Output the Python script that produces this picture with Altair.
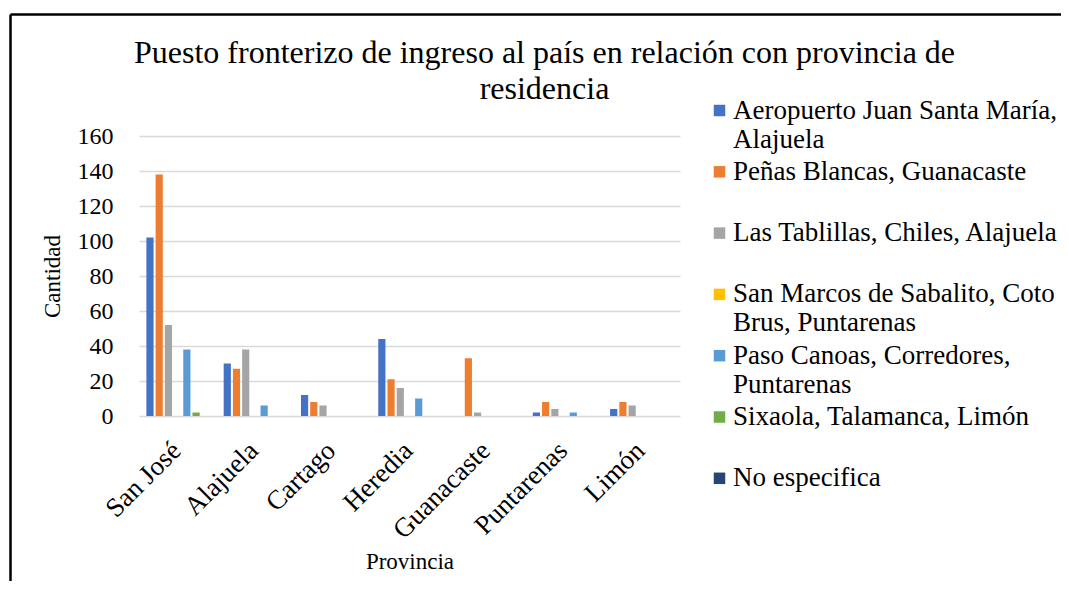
import altair as alt
import pandas as pd

provinces = ["San José", "Alajuela", "Cartago", "Heredia", "Guanacaste", "Puntarenas", "Limón"]

series = [
    "Aeropuerto Juan Santa María, Alajuela",
    "Peñas Blancas, Guanacaste",
    "Las Tablillas, Chiles, Alajuela",
    "San Marcos de Sabalito, Coto Brus, Puntarenas",
    "Paso Canoas, Corredores, Puntarenas",
    "Sixaola, Talamanca, Limón",
    "No especifica",
]

# values per province (same order as provinces)
aeropuerto = [102, 30, 12, 44, 0, 2, 4]
penas_blancas = [138, 27, 8, 21, 33, 8, 8]
las_tablillas = [52, 38, 6, 16, 2, 4, 6]
san_marcos = [0, 0, 0, 0, 0, 0, 0]
paso_canoas = [38, 6, 0, 10, 0, 2, 0]
sixaola = [2, 0, 0, 0, 0, 0, 0]
no_especifica = [0, 0, 0, 0, 0, 0, 0]

series_values = [aeropuerto, penas_blancas, las_tablillas, san_marcos,
                 paso_canoas, sixaola, no_especifica]

colors = ["#4472C4", "#ED7D31", "#A5A5A5", "#FFC000", "#5B9BD5", "#70AD47", "#264478"]

legend_lines = [
    ["Aeropuerto Juan Santa María,", "Alajuela"],
    ["Peñas Blancas, Guanacaste", ""],
    ["Las Tablillas, Chiles, Alajuela", ""],
    ["San Marcos de Sabalito, Coto", "Brus, Puntarenas"],
    ["Paso Canoas, Corredores,", "Puntarenas"],
    ["Sixaola, Talamanca, Limón", ""],
    ["No especifica", ""],
]

title_lines = ["Puesto fronterizo de ingreso al país en relación con provincia de",
               "residencia"]

rows = []
for s, vals in zip(series, series_values):
    for p, v in zip(provinces, vals):
        rows.append({"Provincia": p, "Puesto": s, "Cantidad": v})
df = pd.DataFrame(rows)

# legend label expression -> two-line labels
expr = "[datum.label, '']"
for s, lines in reversed(list(zip(series, legend_lines))):
    arr = "[" + ", ".join("'" + t + "'" for t in lines) + "]"
    expr = f"datum.label === '{s}' ? {arr} : ({expr})"

FONT = "Liberation Serif"

bars = alt.Chart(df).mark_bar().encode(
    x=alt.X("Provincia:N", sort=provinces,
            scale=alt.Scale(paddingInner=0.165, paddingOuter=0.0825),
            axis=alt.Axis(title="Provincia", labelAngle=-45, labelAlign="right",
                          labelBaseline="top", labelFont=FONT, labelFontSize=27,
                          labelColor="black", labelPadding=21, labelOffset=-10,
                          ticks=False, domain=False, grid=False, titleFont=FONT,
                          titleFontSize=23, titleFontWeight="normal",
                          titleColor="black", titlePadding=7)),
    xOffset=alt.XOffset("Puesto:N", sort=series,
                        scale=alt.Scale(paddingInner=0.22, paddingOuter=0.11)),
    y=alt.Y("Cantidad:Q", scale=alt.Scale(domain=[0, 160]),
            axis=alt.Axis(title="Cantidad", values=list(range(0, 161, 20)),
                          labelFont=FONT, labelFontSize=24, labelColor="black",
                          labelPadding=26, ticks=False, domain=False,
                          gridColor="#d9d9d9", gridWidth=1.5,
                          titleFont=FONT, titleFontSize=23,
                          titleFontWeight="normal", titleColor="black",
                          titlePadding=13)),
    color=alt.Color("Puesto:N", sort=series,
                    scale=alt.Scale(domain=series, range=colors),
                    legend=alt.Legend(title=None, orient="none", legendX=567,
                                      legendY=-39, direction="vertical",
                                      labelExpr=expr, labelFont=FONT,
                                      labelFontSize=27, labelColor="black",
                                      labelLimit=600, labelOffset=0,
                                      labelBaseline="middle",
                                      symbolType="square",
                                      symbolSize=132, symbolStrokeWidth=0,
                                      rowPadding=4.3, padding=0)),
)

frame_df = pd.DataFrame({"k": [0]})
frame_top = alt.Chart(frame_df).mark_rule(color="black", strokeWidth=2.5).encode(
    x=alt.value(-128.5), x2=alt.value(930), y=alt.value(-121.5))
frame_left = alt.Chart(frame_df).mark_rule(color="black", strokeWidth=2.5).encode(
    x=alt.value(-128.5), y=alt.value(-121.5), y2=alt.value(460))

chart = alt.layer(bars, frame_top, frame_left).properties(
    width=541, height=280,
    title=alt.TitleParams(text=title_lines, font=FONT, fontSize=32,
                          fontWeight="normal", color="black", anchor="middle",
                          dx=135, dy=113, lineHeight=36, offset=20),
    autosize=alt.AutoSizeParams(type="none"),
    padding={"left": 131, "top": 128, "right": 381, "bottom": 165},
    background="white",
).configure_view(stroke=None)

chart.save("out.html", embed_options={"renderer": "svg", "actions": False})
